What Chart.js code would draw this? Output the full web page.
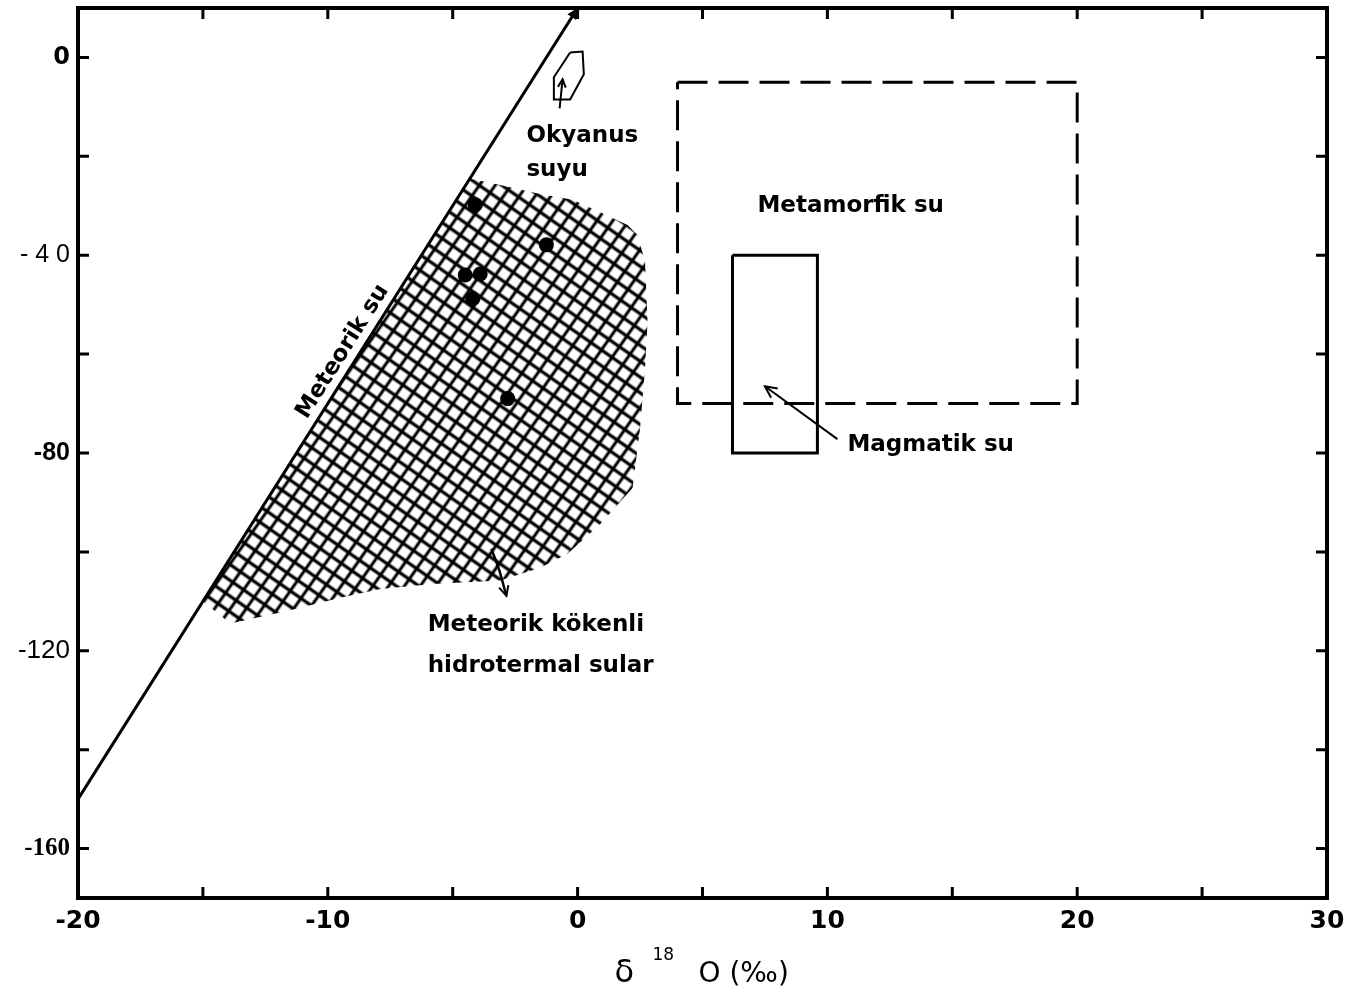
<!DOCTYPE html>
<html>
<head>
<meta charset="utf-8">
<script src="https://cdn.jsdelivr.net/npm/chart.js@4.4.0/dist/chart.umd.min.js"></script>
<style>
  html, body { margin: 0; padding: 0; background: #fff; }
  #wrap { width: 1355px; height: 990px; }
</style>
</head>
<body>
<div id="wrap"><canvas id="chart"></canvas></div>
<script>
// meteoric water line, dD = 8 d18O + 10
const meteoricX = [-20, 0];
const meteoricY = [-150, 10];

// ocean water outline
const oceanX = [-0.3, 0.2, 0.25, -0.3, -0.95, -0.95, -0.3];
const oceanY = [1, 1.2, -3.4, -8.5, -8.5, -4, 1];

// metamorphic water (dashed box)
const metaX = [4, 20, 20, 4, 4];
const metaY = [-5, -5, -70, -70, -5];

// magmatic water (solid box)
const magmaX = [6.2, 9.6, 9.6, 6.2, 6.2];
const magmaY = [-40, -40, -80, -80, -40];

// hydrothermal waters of meteoric origin (hatched field)
const hydroX = [-4.3, -3.1, -1.5, -0.2, 0.9, 2.0, 2.4, 2.7, 2.8, 2.7, 2.5, 2.2, 0.9, -0.4, -1.5, -3.1, -5.8, -7.9, -9.5, -11.6, -13.9, -15];
const hydroY = [-24.5, -25.8, -27.6, -28.8, -31.3, -33.9, -35.9, -41.3, -53.4, -62.9, -75, -87.1, -94.4, -100.4, -103.2, -105.8, -106.5, -107.5, -109.3, -111.9, -114.5, -110];

// samples
const sampleX = [-4.1, -1.25, -4.5, -3.9, -4.2, -2.8];
const sampleY = [-29.8, -37.9, -44.0, -43.8, -48.8, -69.0];

// pointer arrows
const oceanArrowX = [-0.72, -0.6];
const oceanArrowY = [-10.3, -4.4];
const magmaArrowX = [10.4, 7.5];
const magmaArrowY = [-77.2, -66.5];
const hydroArrowX = [-3.45, -3.15, -2.85];
const hydroArrowY = [-99.4, -103.5, -108.9];

// labels
const noteText = ['Okyanus', 'suyu', 'Metamorfik su', 'Magmatik su', 'Meteorik kökenli', 'hidrotermal sular'];
const noteX = [-2.05, -2.05, 7.2, 10.8, -6.0, -6.0];
const noteY = [-17.2, -23.9, -31.3, -79.6, -116.1, -124.2];
const lineLabel = 'Meteorik su';
const lineLabelX = -9.4;
const lineLabelY = -59.5;

// axes
const xTicks = [-20, -15, -10, -5, 0, 5, 10, 15, 20, 25, 30];
const xLabelled = [-20, -10, 0, 10, 20, 30];
const yTicks = [-160, -140, -120, -100, -80, -60, -40, -20, 0];
const yLabelValues = [0, -40, -80, -120, -160];
const yLabelTexts = ['0', '- 4 0', '-80', '-120', '-160'];

function pts(xs, ys) {
  return xs.map((x, i) => ({x: x, y: ys[i]}));
}

function hatchPattern() {
  const c = document.createElement('canvas');
  c.width = 12;
  c.height = 12;
  const g = c.getContext('2d');
  g.strokeStyle = '#000';
  g.lineWidth = 2.8;
  g.beginPath();
  g.moveTo(0, 6); g.lineTo(12, 6);
  g.moveTo(6, 0); g.lineTo(6, 12);
  g.stroke();
  const p = g.createPattern(c, 'repeat');
  p.setTransform(new DOMMatrix().rotate(35).scale(1.08));
  return p;
}

function yFont(v) {
  if (v === 0) return {family: 'DejaVu Sans', weight: 'bold', size: 24};
  if (v === -40) return {family: 'Liberation Sans', size: 25};
  if (v === -80) return {family: 'Liberation Sans', weight: 'bold', size: 25};
  if (v === -160) return {family: 'Liberation Serif', weight: 'bold', size: 25};
  return {family: 'Liberation Sans', size: 26};
}

function arrowHead(ctx, x0, y0, x1, y1, size, filled) {
  const a = Math.atan2(y1 - y0, x1 - x0);
  ctx.beginPath();
  ctx.moveTo(x1 - size * Math.cos(a - 0.45), y1 - size * Math.sin(a - 0.45));
  ctx.lineTo(x1, y1);
  ctx.lineTo(x1 - size * Math.cos(a + 0.45), y1 - size * Math.sin(a + 0.45));
  if (filled) {
    ctx.closePath();
    ctx.fill();
  } else {
    ctx.stroke();
  }
}

// frame, inward ticks, arrow heads and text
const decorations = {
  id: 'decorations',
  afterDraw(chart) {
    const ctx = chart.ctx;
    const area = chart.chartArea;
    const xs = chart.scales.x;
    const ys = chart.scales.y;
    ctx.save();
    ctx.strokeStyle = '#000';
    ctx.fillStyle = '#000';

    // ticks
    ctx.lineWidth = 3;
    ctx.beginPath();
    xTicks.forEach(v => {
      const px = xs.getPixelForValue(v);
      ctx.moveTo(px, area.bottom); ctx.lineTo(px, area.bottom - 11);
      ctx.moveTo(px, area.top); ctx.lineTo(px, area.top + 11);
    });
    yTicks.forEach(v => {
      const py = ys.getPixelForValue(v);
      ctx.moveTo(area.left, py); ctx.lineTo(area.left + 11, py);
      ctx.moveTo(area.right, py); ctx.lineTo(area.right - 11, py);
    });
    ctx.stroke();

    // frame
    ctx.lineWidth = 4;
    ctx.strokeRect(area.left, area.top, area.right - area.left, area.bottom - area.top);

    // arrow heads at the end of flagged datasets
    chart.data.datasets.forEach((ds, i) => {
      if (!ds.arrow) return;
      const meta = chart.getDatasetMeta(i);
      const n = meta.data.length;
      const a = meta.data[n - 2];
      const b = meta.data[n - 1];
      ctx.lineWidth = 2;
      arrowHead(ctx, a.x, a.y, b.x, b.y, ds.arrow, ds.arrowFill);
    });

    // labels
    ctx.font = 'bold 23px "DejaVu Sans"';
    ctx.textAlign = 'left';
    ctx.textBaseline = 'alphabetic';
    noteText.forEach((t, i) => {
      ctx.fillText(t, xs.getPixelForValue(noteX[i]), ys.getPixelForValue(noteY[i]));
    });

    // label along the meteoric water line
    const ang = Math.atan2(
      ys.getPixelForValue(meteoricY[1]) - ys.getPixelForValue(meteoricY[0]),
      xs.getPixelForValue(meteoricX[1]) - xs.getPixelForValue(meteoricX[0]));
    ctx.save();
    ctx.translate(xs.getPixelForValue(lineLabelX), ys.getPixelForValue(lineLabelY));
    ctx.rotate(ang);
    ctx.textAlign = 'center';
    ctx.textBaseline = 'middle';
    ctx.fillText(lineLabel, 0, 0);
    ctx.restore();

    // x axis title with raised superscript
    const cx = (area.left + area.right) / 2;
    const ty = 982;
    ctx.textAlign = 'left';
    ctx.textBaseline = 'alphabetic';
    ctx.font = '32px "DejaVu Sans"';
    ctx.fillText('δ', cx - 88, ty);
    ctx.font = '17px "DejaVu Sans"';
    ctx.fillText('18', cx - 50, ty - 22);
    ctx.font = '28px "DejaVu Sans"';
    ctx.fillText('O (‰)', cx - 4, ty);
    ctx.restore();
  }
};

new Chart(document.getElementById('chart'), {
  type: 'line',
  data: {
    datasets: [
      {
        data: pts(sampleX, sampleY),
        showLine: false,
        pointRadius: 7.5,
        pointBackgroundColor: '#000',
        pointBorderWidth: 0
      },
      {
        data: pts(meteoricX, meteoricY),
        borderColor: '#000',
        borderWidth: 3,
        pointRadius: 0,
        arrow: 12,
        arrowFill: true
      },
      {
        data: pts(oceanX, oceanY),
        borderColor: '#000',
        borderWidth: 2,
        pointRadius: 0
      },
      {
        data: pts(oceanArrowX, oceanArrowY),
        borderColor: '#000',
        borderWidth: 2,
        pointRadius: 0,
        arrow: 9
      },
      {
        data: pts(metaX, metaY),
        borderColor: '#000',
        borderWidth: 3,
        borderDash: [30, 11],
        pointRadius: 0
      },
      {
        data: pts(magmaX, magmaY),
        borderColor: '#000',
        borderWidth: 3,
        pointRadius: 0
      },
      {
        data: pts(magmaArrowX, magmaArrowY),
        borderColor: '#000',
        borderWidth: 2,
        pointRadius: 0,
        arrow: 13
      },
      {
        data: pts(hydroArrowX, hydroArrowY),
        borderColor: '#000',
        borderWidth: 2.5,
        pointRadius: 0,
        tension: 0.3,
        arrow: 11
      },
      {
        data: pts(hydroX, hydroY),
        borderWidth: 0,
        borderColor: 'rgba(0,0,0,0)',
        backgroundColor: hatchPattern(),
        fill: 'shape',
        pointRadius: 0
      }
    ]
  },
  options: {
    responsive: true,
    maintainAspectRatio: false,
    animation: false,
    events: [],
    layout: {padding: {top: 8, right: 28, bottom: 0, left: 0}},
    plugins: {
      legend: {display: false},
      tooltip: {enabled: false}
    },
    scales: {
      x: {
        type: 'linear',
        min: -20,
        max: 30,
        afterBuildTicks: s => { s.ticks = xTicks.map(v => ({value: v})); },
        afterFit: s => { s.height = 92; s.paddingLeft = 0; s.paddingRight = 0; },
        grid: {display: false, drawTicks: false},
        border: {display: false},
        ticks: {
          autoSkip: false,
          maxRotation: 0,
          padding: 8,
          color: '#000',
          font: {family: 'DejaVu Sans', weight: 'bold', size: 25},
          callback: v => xLabelled.includes(v) ? String(v) : ''
        }
      },
      y: {
        type: 'linear',
        min: -170,
        max: 10,
        afterBuildTicks: s => { s.ticks = yTicks.map(v => ({value: v})); },
        afterFit: s => { s.width = 78; s.paddingTop = 0; s.paddingBottom = 0; },
        grid: {display: false, drawTicks: false},
        border: {display: false},
        ticks: {
          autoSkip: false,
          padding: 8,
          color: '#000',
          font: ctx => yFont(ctx.tick ? ctx.tick.value : null),
          callback: v => {
            const i = yLabelValues.indexOf(v);
            return i < 0 ? '' : yLabelTexts[i];
          }
        }
      }
    }
  },
  plugins: [decorations]
});
</script>
</body>
</html>
